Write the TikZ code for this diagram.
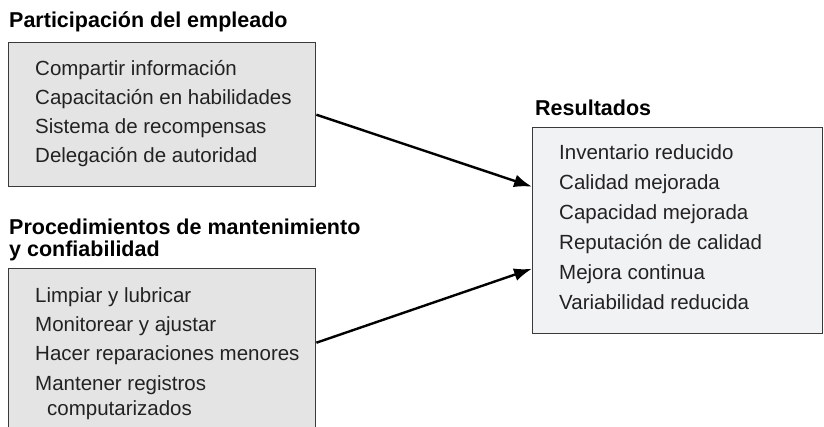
\documentclass[tikz,border=0pt]{standalone}
\usepackage{fontspec}
\setmainfont{Liberation Sans}
\usepackage{tikz}
\usetikzlibrary{arrows.meta}
\definecolor{boxgray}{HTML}{E4E4E4}
\definecolor{resgray}{HTML}{F1F2F4}
\definecolor{edgegray}{HTML}{3A3A3A}
\definecolor{inkgray}{HTML}{222222}

\begin{document}
\begin{tikzpicture}[x=1pt,y=-1pt,
    panel/.style={draw=edgegray, line width=1.4pt, anchor=north west, inner sep=0pt},
    head/.style={anchor=base west, inner sep=0pt, font=\fontsize{21.5}{23}\selectfont\bfseries},
    item/.style={anchor=base west, inner sep=0pt, text=inkgray, font=\fontsize{20.5}{24}\selectfont},
    link/.style={line width=2.4pt, -{Latex[length=18pt,width=13pt]}}]
  \useasboundingbox (0,0) rectangle (824,426);

  % participacion del empleado
  \node[head] (parthead) at (9,27) {Participación del empleado};
  \node[panel, fill=boxgray, minimum width=307pt, minimum height=144pt] (partbox) at (8,42) {};
  \node[item] (info) at (35,75) {Compartir información};
  \node[item] (skills) at (35,104) {Capacitación en habilidades};
  \node[item] (rewards) at (35,133) {Sistema de recompensas};
  \node[item] (authority) at (35,162) {Delegación de autoridad};

  % procedimientos
  \node[head] (prochead) at (9,234) {Procedimientos de mantenimiento};
  \node[head] (prochead2) at (9,256) {y confiabilidad};
  \node[panel, fill=boxgray, minimum width=307pt, minimum height=170pt] (procbox) at (8,268) {};
  \node[item] (clean) at (35,302) {Limpiar y lubricar};
  \node[item] (monitor) at (35,331) {Monitorear y ajustar};
  \node[item] (repair) at (35,360) {Hacer reparaciones menores};
  \node[item] (records) at (35,390) {Mantener registros};
  \node[item] (records2) at (47,415) {computarizados};

  % resultados
  \node[head] (reshead) at (535,115) {Resultados};
  \node[panel, fill=resgray, minimum width=290pt, minimum height=206pt] (resbox) at (532,127) {};
  \node[item] (inventory) at (559,159) {Inventario reducido};
  \node[item] (quality) at (559,189) {Calidad mejorada};
  \node[item] (capacity) at (559,219) {Capacidad mejorada};
  \node[item] (reputation) at (559,249) {Reputación de calidad};
  \node[item] (improve) at (559,279) {Mejora continua};
  \node[item] (variability) at (559,309) {Variabilidad reducida};

  \draw[link] (partbox.east) -- ([yshift=44pt]resbox.west);
  \draw[link] ([yshift=11pt]procbox.east) -- ([yshift=-38pt]resbox.west);
\end{tikzpicture}
\end{document}
